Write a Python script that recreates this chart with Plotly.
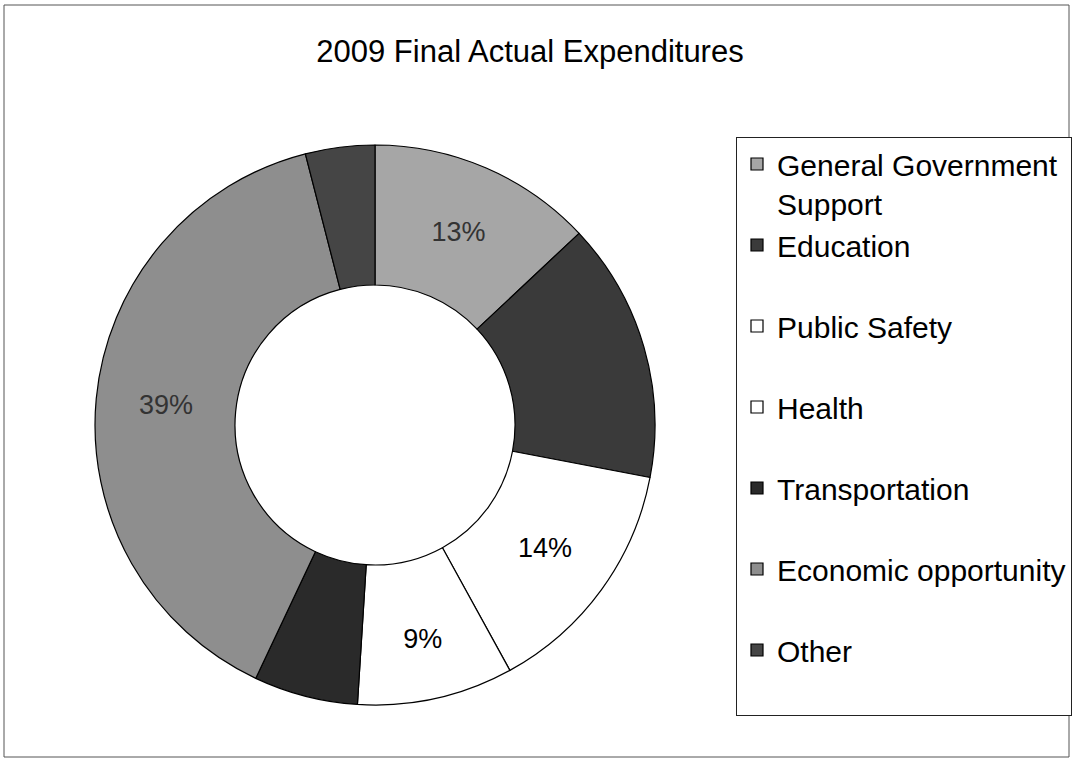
import plotly.graph_objects as go

# ---- data ----
categories = ["General Government Support", "Education", "Public Safety", "Health",
              "Transportation", "Economic opportunity", "Other"]
shares = [13, 15, 14, 9, 6, 39, 4]
slice_labels = ["13%", "", "14%", "9%", "", "39%", ""]
slice_colors = ["#a6a6a6", "#3a3a3a", "#ffffff", "#ffffff", "#2a2a2a", "#8e8e8e", "#454545"]
label_colors = ["#333333", "#ffffff", "#000000", "#000000", "#ffffff", "#333333", "#ffffff"]
title_text = "2009 Final Actual Expenditures"

W, H = 1073, 763


def legend_label(name):
    # two text rows per legend entry, like the original legend spacing
    if name == "General Government Support":
        return "General Government<br>Support"
    return name + "<br> "


fig = go.Figure()
fig.add_trace(go.Pie(
    labels=[legend_label(c) for c in categories],
    values=shares,
    text=slice_labels,
    textinfo="text",
    texttemplate="%{text}",
    textposition="inside",
    insidetextorientation="horizontal",
    textfont=dict(family="Liberation Sans, Arial, sans-serif", size=27, color=label_colors),
    hole=0.5,
    sort=False,
    direction="clockwise",
    rotation=0,
    marker=dict(colors=slice_colors, line=dict(color="#000000", width=1.2)),
    domain=dict(x=[95 / W, 655 / W], y=[1 - 705 / H, 1 - 145 / H]),
    hoverinfo="label+percent",
))

fig.update_layout(
    width=W, height=H,
    margin=dict(l=0, r=0, t=0, b=0, autoexpand=False),
    paper_bgcolor="white",
    plot_bgcolor="white",
    font=dict(family="Liberation Sans, Arial, sans-serif", color="#000000"),
    title=dict(text=title_text, x=530 / W, xanchor="center", y=1 - 51 / H, yanchor="middle",
               xref="paper", yref="paper",
               font=dict(family="Liberation Sans, Arial, sans-serif", size=31, color="#000000")),
    legend=dict(
        x=736 / W, xanchor="left", y=1 - 137 / H, yanchor="top",
        bgcolor="white", bordercolor="#222222", borderwidth=1,
        font=dict(family="Liberation Sans, Arial, sans-serif", size=30, color="#000000"),
        valign="top",
        traceorder="normal",
    ),
    showlegend=True,
    shapes=[dict(type="rect", xref="paper", yref="paper",
                 x0=4 / W, x1=1069 / W, y0=1 - 757 / H, y1=1 - 5 / H,
                 line=dict(color="#555555", width=1), fillcolor="rgba(0,0,0,0)", layer="below")],
)

fig.write_html("out.html")
